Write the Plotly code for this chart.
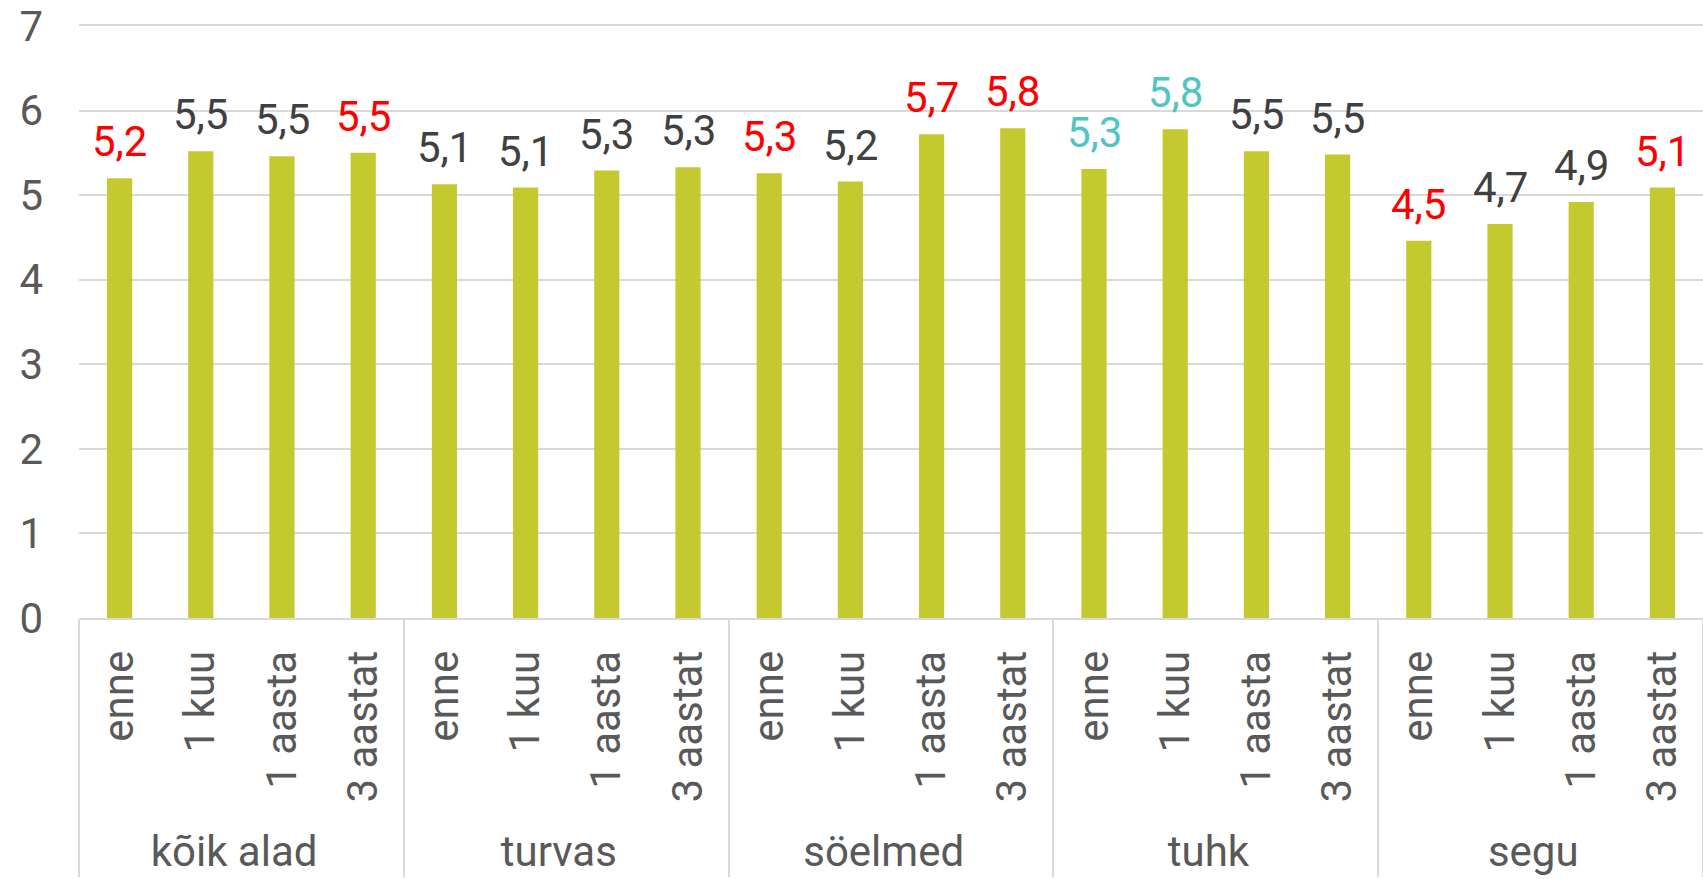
import plotly.graph_objects as go

groups = ["kõik alad", "turvas", "söelmed", "tuhk", "segu"]
periods = ["enne", "1 kuu", "1 aasta", "3 aastat"]
values = [5.20, 5.52, 5.46, 5.50,
          5.13, 5.09, 5.29, 5.33,
          5.26, 5.16, 5.72, 5.79,
          5.31, 5.78, 5.52, 5.48,
          4.46, 4.66, 4.92, 5.09]
label_colors = ["#FF0000", "#404040", "#404040", "#FF0000",
                "#404040", "#404040", "#404040", "#404040",
                "#FF0000", "#404040", "#FF0000", "#FF0000",
                "#4FC6C2", "#4FC6C2", "#404040", "#404040",
                "#FF0000", "#404040", "#404040", "#FF0000"]
y_ticks = [0, 1, 2, 3, 4, 5, 6, 7]

x_outer = [g for g in groups for _ in periods]
x_inner = [p for _ in groups for p in periods]
labels = [f"{v:.1f}".replace(".", ",") for v in values]

FONT = "Roboto"
FS = 42
fig = go.Figure()
fig.add_trace(go.Bar(
    x=[x_outer, x_inner],
    y=values,
    marker=dict(color="#C4C92F", line=dict(width=0)),
    width=0.31,
    hoverinfo="skip",
))

for i, (v, t, c) in enumerate(zip(values, labels, label_colors)):
    fig.add_annotation(x=i, y=v, text=t, showarrow=False, yanchor="bottom",
                       yshift=10, font=dict(family=FONT, size=FS, color=c))

fig.update_layout(
    width=1703, height=879,
    margin=dict(l=79, r=0, t=26, b=261),
    paper_bgcolor="white", plot_bgcolor="white",
    showlegend=False,
    font=dict(family=FONT, size=FS, color="#595959"),
)
fig.update_yaxes(
    range=[0, 7], tickvals=y_ticks, showgrid=True, gridcolor="#D9D9D9", gridwidth=2,
    zeroline=False, showline=False, ticks="", ticklabelstandoff=35,
    tickfont=dict(family=FONT, size=FS, color="#595959"),
)
fig.update_xaxes(
    type="multicategory", tickangle=-90, showline=True, linecolor="#D9D9D9", linewidth=2,
    mirror=True,
    showdividers=True, dividercolor="#D9D9D9", dividerwidth=2,
    ticks="", ticklabelstandoff=14, tickfont=dict(family=FONT, size=FS, color="#595959"),
    automargin=False,
)

fig.write_html("out.html", config={"displayModeBar": False},
               post_script="document.body.style.margin='0';")
